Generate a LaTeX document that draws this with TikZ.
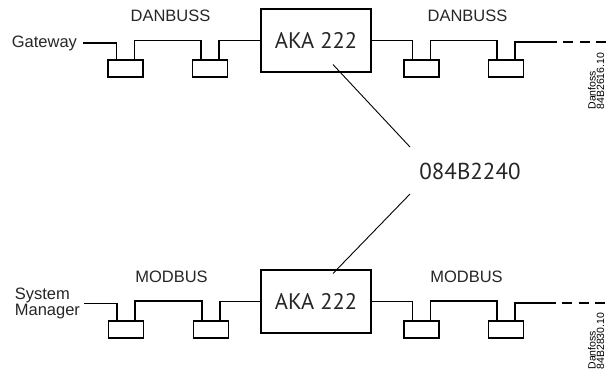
\documentclass[tikz,border=0pt]{standalone}
\usepackage{fontspec}
\setmainfont{Liberation Sans}
\newfontfamily\myriadlike{PT Sans}
\begin{document}
\begin{tikzpicture}[x=1pt,y=-1pt,line width=1.1pt,
  lbl/.style={font=\fontsize{16.5}{16.7}\selectfont,inner sep=0pt,text=black!85},
  sbox/.style={draw,minimum width=35pt,minimum height=17pt,inner sep=0pt},
  akabox/.style={draw,minimum width=110pt,minimum height=63pt,inner sep=0pt,
    font=\myriadlike\fontsize{22.5}{24}\selectfont,text=black!85},
  codelbl/.style={font=\myriadlike\fontsize{23}{24}\selectfont,inner sep=0pt,text=black!85},
  dnf/.style={font=\fontsize{10.5}{8.4}\selectfont,align=left,rotate=90,inner sep=0pt},
  dashline/.style={dash pattern=on 10pt off 6.5pt}]
\useasboundingbox (0,0) rectangle (607,373);

% ---- top row (DANBUSS)
\node[lbl,anchor=east,outer xsep=6pt] (gw) at (83,43) {Gateway};
\node[lbl,anchor=base] (db1) at (170.5,21) {DANBUSS};
\node[lbl,anchor=base] (db2) at (467.5,21) {DANBUSS};
\node[sbox] (t1) at (125.5,68.5) {};
\node[sbox] (t2) at (210,68.5) {};
\node[sbox] (t3) at (421.5,68.5) {};
\node[sbox] (t4) at (506,68.5) {};
\node[akabox] (ta) at (316,40.5) {AKA 222};
\coordinate (tend) at (557,42);
\coordinate (tdash) at (563,42);
\coordinate (tout) at (610,42);

\draw (gw.east) -| ([xshift=-9pt]t1.north);
\draw ([xshift=9pt]t1.north) -- ++(0,-19) -| ([xshift=-9pt]t2.north);
\draw ([xshift=9pt]t2.north) |- (ta.west);
\draw (ta.east) -| ([xshift=-9pt]t3.north);
\draw ([xshift=9pt]t3.north) -- ++(0,-19) -| ([xshift=-9pt]t4.north);
\draw ([xshift=9pt]t4.north) |- (tend);
\draw[dashline] (tdash) -- (tout);

% ---- bottom row (MODBUS)
\node[lbl,anchor=east,outer xsep=4pt,align=left] (sm) at (84,303.5) {System\\Manager};
\node[lbl,anchor=base] (mb1) at (171.5,282.7) {MODBUS};
\node[lbl,anchor=base] (mb2) at (466.5,282.7) {MODBUS};
\node[sbox] (b1) at (126,329.5) {};
\node[sbox] (b2) at (211,329.5) {};
\node[sbox] (b3) at (421.5,329.5) {};
\node[sbox] (b4) at (506,329.5) {};
\node[akabox] (ba) at (316,301.5) {AKA 222};
\coordinate (bend) at (556,303);
\coordinate (bdash) at (562,303);
\coordinate (bout) at (610,303);

\draw (sm.east) -| ([xshift=-9pt]b1.north);
\draw ([xshift=9pt]b1.north) -- ++(0,-19.5) -| ([xshift=-9pt]b2.north);
\draw ([xshift=9pt]b2.north) |- (ba.west);
\draw (ba.east) -| ([xshift=-9pt]b3.north);
\draw ([xshift=9pt]b3.north) -- ++(0,-19.5) -| ([xshift=-9pt]b4.north);
\draw ([xshift=9pt]b4.north) |- (bend);
\draw[dashline] (bdash) -- (bout);

% ---- cable label and leaders
\node[codelbl] (code) at (470,171) {084B2240};
\draw[line width=0.9pt] ([shift={(17,-8)}]ta.south) -- ([shift={(-60,-24)}]code.center);
\draw[line width=0.9pt] ([shift={(-60,23)}]code.center) -- ([shift={(17,4)}]ba.north);

% ---- drawing numbers
\node[dnf,anchor=north west] (dan1) at (587.5,110) {Danfoss\\84B2616.10};
\node[dnf,anchor=north west] (dan2) at (587.5,370) {Danfoss\\84B2830.10};
\end{tikzpicture}
\end{document}
